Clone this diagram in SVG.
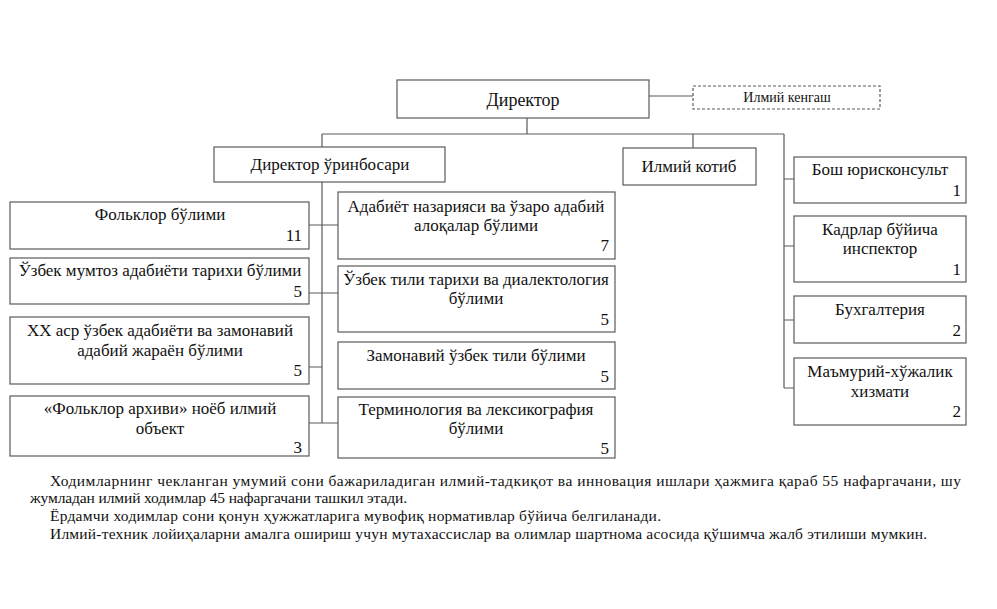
<svg xmlns="http://www.w3.org/2000/svg" width="997" height="609" viewBox="0 0 997 609" font-family="'Liberation Serif', 'Times New Roman', 'DejaVu Serif', serif">
<style>
.b{fill:#fff;stroke:#5a5a5a;stroke-width:1.2}
.d{fill:#fff;stroke:#5a5a5a;stroke-width:1.2;stroke-dasharray:3 2}
.c{fill:none;stroke:#5a5a5a;stroke-width:1.2}
.t{font-size:17px;text-anchor:middle;fill:#111}
.n{font-size:17px;text-anchor:end;fill:#111}
.p{font-size:15.5px;fill:#111}
</style>
<rect width="997" height="609" fill="#fff"/>
<g id="connectors">
<path class="c" d="M649 96H693"/>
<path class="c" d="M527 118V134M322 134H784M322 134V147M693 134V148"/>
<path class="c" d="M322 182V423M309 225H338M309 293H338M309 367H322M309 423H338"/>
<path class="c" d="M784 134V388M784 179H794M784 246H794M784 320H794M784 388H794"/>
</g>
<g id="director"><rect class="b" x="397" y="80" width="252" height="38"/><text x="523" y="106" font-size="18" text-anchor="middle" fill="#111">Директор</text></g>
<g id="council"><rect class="d" x="693" y="86" width="187" height="23"/><text x="787" y="102" font-size="14" text-anchor="middle" fill="#111">Илмий кенгаш</text></g>
<g id="deputy"><rect class="b" x="214" y="147" width="231" height="35"/><text class="t" x="330" y="170">Директор ўринбосари</text></g>
<g id="secretary"><rect class="b" x="623" y="148" width="133" height="37"/><text class="t" x="689" y="172">Илмий котиб</text></g>
<g id="folklore"><rect class="b" x="10" y="202" width="299" height="47"/><text class="t" x="160" y="220">Фольклор бўлими</text><text class="n" x="302" y="241">11</text></g>
<g id="classic"><rect class="b" x="10" y="258" width="299" height="46"/><text class="t" x="160" y="276">Ўзбек мумтоз адабиёти тарихи бўлими</text><text class="n" x="302" y="297">5</text></g>
<g id="xx"><rect class="b" x="10" y="317" width="299" height="67"/><text class="t" x="160" y="336">ХХ аср ўзбек адабиёти ва замонавий</text><text class="t" x="160" y="356">адабий жараён бўлими</text><text class="n" x="302" y="376">5</text></g>
<g id="archive"><rect class="b" x="10" y="396" width="299" height="60"/><text class="t" x="160" y="414">«Фольклор архиви» ноёб илмий</text><text class="t" x="160" y="434">объект</text><text class="n" x="302" y="453">3</text></g>
<g id="theory"><rect class="b" x="338" y="192" width="277" height="67"/><text class="t" x="476" y="212">Адабиёт назарияси ва ўзаро адабий</text><text class="t" x="476" y="231">алоқалар бўлими</text><text class="n" x="609" y="251">7</text></g>
<g id="dialect"><rect class="b" x="338" y="266" width="277" height="66"/><text class="t" x="476" y="285">Ўзбек тили тарихи ва диалектология</text><text class="t" x="476" y="304">бўлими</text><text class="n" x="609" y="325">5</text></g>
<g id="modern"><rect class="b" x="338" y="342" width="277" height="47"/><text class="t" x="476" y="361">Замонавий ўзбек тили бўлими</text><text class="n" x="609" y="382">5</text></g>
<g id="terminology"><rect class="b" x="338" y="397" width="277" height="61"/><text class="t" x="476" y="415">Терминология ва лексикография</text><text class="t" x="476" y="434">бўлими</text><text class="n" x="609" y="454">5</text></g>
<g id="lawyer"><rect class="b" x="794" y="157" width="172" height="46"/><text class="t" x="880" y="175">Бош юрисконсульт</text><text class="n" x="961" y="196">1</text></g>
<g id="hr"><rect class="b" x="794" y="216" width="172" height="66"/><text class="t" x="880" y="235">Кадрлар бўйича</text><text class="t" x="880" y="254">инспектор</text><text class="n" x="961" y="275">1</text></g>
<g id="accounting"><rect class="b" x="794" y="296" width="172" height="47"/><text class="t" x="880" y="315">Бухгалтерия</text><text class="n" x="961" y="336">2</text></g>
<g id="admin"><rect class="b" x="794" y="358" width="172" height="67"/><text class="t" x="880" y="377">Маъмурий-хўжалик</text><text class="t" x="880" y="397">хизмати</text><text class="n" x="961" y="417">2</text></g>
<g id="notes">
<text class="p" x="50" y="486" textLength="911" lengthAdjust="spacing">Ходимларнинг чекланган умумий сони бажариладиган илмий-тадкиқот ва инновация ишлари ҳажмига қараб 55 нафаргачани, шу</text>
<text class="p" x="30" y="503" textLength="377" lengthAdjust="spacing">жумладан илмий ходимлар 45 нафаргачани ташкил этади.</text>
<text class="p" x="50" y="521" textLength="611" lengthAdjust="spacing">Ёрдамчи ходимлар сони қонун ҳужжатларига мувофиқ нормативлар бўйича белгиланади.</text>
<text class="p" x="50" y="539" textLength="877" lengthAdjust="spacing">Илмий-техник лойиҳаларни амалга ошириш учун мутахассислар ва олимлар шартнома асосида қўшимча жалб этилиши мумкин.</text>
</g>
</svg>
